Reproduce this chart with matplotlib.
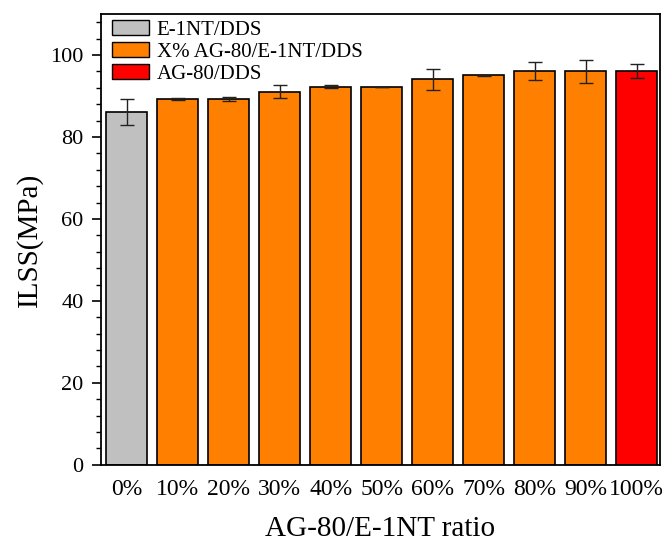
import numpy as np
import matplotlib
matplotlib.use('Agg')
import matplotlib.pyplot as plt
from matplotlib.ticker import MultipleLocator
from matplotlib.patches import Patch

plt.rcParams['font.family'] = ['Liberation Serif', 'DejaVu Serif']

ratios = ['0%', '10%', '20%', '30%', '40%', '50%', '60%', '70%', '80%', '90%', '100%']
ilss = [86.1, 89.3, 89.3, 91.1, 92.3, 92.2, 94.1, 95.1, 96.2, 96.0, 96.2]
ilss_err = [3.2, 0.2, 0.5, 1.5, 0.3, 0.1, 2.6, 0.1, 2.2, 2.7, 1.7]
groups = ['E-1NT/DDS'] + ['X% AG-80/E-1NT/DDS'] * 9 + ['AG-80/DDS']

group_colors = {
    'E-1NT/DDS': '#c0c0c0',
    'X% AG-80/E-1NT/DDS': '#ff8000',
    'AG-80/DDS': '#ff0000',
}

fig = plt.figure(figsize=(6.65, 5.43), dpi=100)
ax = fig.add_axes([0.152, 0.144, 0.840, 0.830])

x = np.arange(len(ratios))
colors = [group_colors[g] for g in groups]
ax.bar(x, ilss, width=0.8, color=colors, edgecolor='black', linewidth=1.2,
       yerr=ilss_err, error_kw=dict(ecolor='#222222', elinewidth=1.0, capsize=5, capthick=1.0))

ax.set_xlim(-0.5, 10.45)
ax.set_ylim(0, 110)
ax.set_xticks(x)
ax.set_xticklabels(ratios, fontsize=17)
ax.tick_params(axis='x', length=0, pad=10)
ax.yaxis.set_major_locator(MultipleLocator(20))
ax.yaxis.set_minor_locator(MultipleLocator(4))
ax.tick_params(axis='y', which='major', labelsize=16, length=6.5, width=1.2, direction='out', pad=6)
ax.tick_params(axis='y', which='minor', length=3.5, width=1.0, direction='out')

for s in ax.spines.values():
    s.set_linewidth(1.3)

ax.set_ylabel('ILSS(MPa)', fontsize=21, labelpad=5)
ax.set_xlabel('AG-80/E-1NT ratio', fontsize=21, labelpad=12)

handles = [Patch(facecolor=group_colors[k], edgecolor='black', linewidth=1.0) for k in group_colors]
ax.legend(handles, list(group_colors.keys()), loc='upper left', bbox_to_anchor=(0.008, 1.0),
          frameon=False, fontsize=15, handlelength=1.8, handleheight=0.72, handletextpad=0.35,
          labelspacing=0.1, borderaxespad=0.1, borderpad=0.2)

fig.savefig('out.png', dpi=100)
